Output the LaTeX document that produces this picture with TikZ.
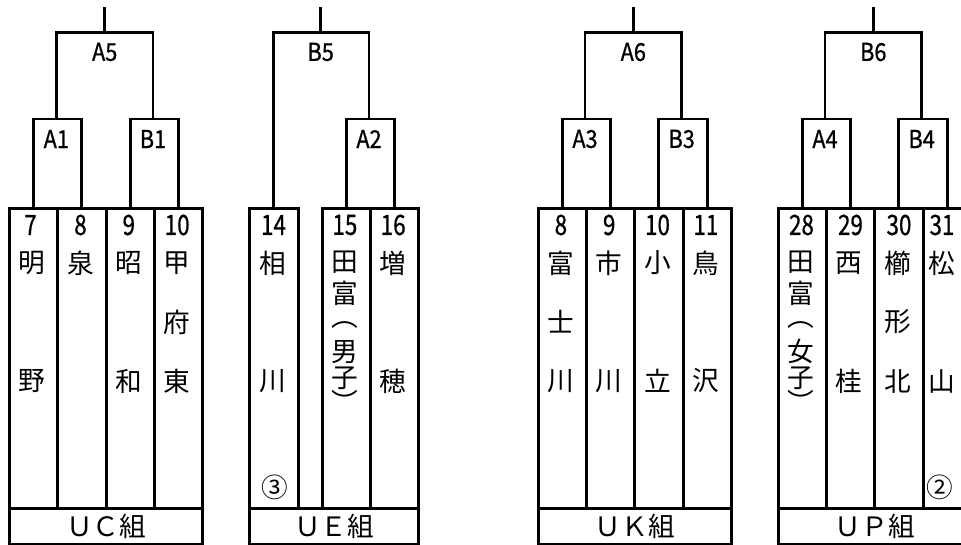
\documentclass[tikz,border=0pt]{standalone}
\usepackage{fontspec}
\usepackage{graphicx}
\setmainfont{Noto Sans CJK JP}
\newfontfamily\numfont[FakeBold=0.8]{Noto Sans CJK JP}
\newcommand\nar[1]{\scalebox{0.8}[1]{#1}}
\newcommand\narl[1]{\scalebox{0.88}[1]{#1}}
\begin{document}
\begin{tikzpicture}[x=0.75pt,y=-0.75pt,
  ln/.style={line width=2.2pt,line join=miter},
  col/.style={draw,line width=2.2pt,minimum width=36.25pt,minimum height=225pt,inner sep=0pt,anchor=north west},
  grp/.style={draw,line width=2.2pt,minimum height=27.4pt,inner sep=0pt,anchor=north west,font=\fontsize{20pt}{24pt}\selectfont},
  num/.style={inner sep=0pt,font=\numfont\fontsize{21pt}{24pt}\selectfont},
  nm/.style={inner sep=0pt,font=\fontsize{20pt}{24pt}\selectfont},
  lbl/.style={inner sep=0pt,font=\numfont\fontsize{18.5pt}{22pt}\selectfont}]
\useasboundingbox (0,0) rectangle (961,545);
\clip (0,0) rectangle (961,545);
\fill[white] (0,0) rectangle (961,545);

% ---------------- Group UC ----------------
\node[col] (c7)  at (8,206.7) {};
\node[col] (c8)  at (56.33,206.7) {};
\node[col] (c9)  at (104.67,206.7) {};
\node[col] (c10) at (153,206.7) {};
\node[grp,minimum width=145pt] (gUC) at (8,506.7) {ＵＣ組};
\node[num] (n7)  at (30.5,225) {\nar{7}};
\node[num] (n8)  at (80.5,225) {\nar{8}};
\node[num] (n9)  at (128.8,225) {\nar{9}};
\node[num] (n10) at (177.2,225) {\nar{10}};
\node[nm] (c7a) at (32.2,263) {明};
\node[nm] (c7b) at (32.2,381) {野};
\node[nm] (c8a) at (80.5,263) {泉};
\node[nm] (c9a) at (128.8,263) {昭};
\node[nm] (c9b) at (128.8,381) {和};
\node[nm] (c10a) at (177.2,263) {甲};
\node[nm] (c10b) at (177.2,322) {府};
\node[nm] (c10c) at (177.2,381) {東};
\coordinate (A1bar) at (56.3,119);
\coordinate (B1bar) at (153,119);
\coordinate (A5bar) at (104.7,32.3);
\coordinate (A5top) at (104.7,7);
\node[lbl] (A1) at (56.3,139) {\narl{A1}};
\node[lbl] (B1) at (153,139) {\narl{B1}};
\node[lbl] (A5) at (104.7,52) {\narl{A5}};
\draw[ln] (c7.north) |- (A1bar) -| (c8.north);
\draw[ln] (c9.north) |- (B1bar) -| (c10.north);
\draw[ln] (A1bar) |- (A5bar) -| (B1bar);
\draw[ln] (A5bar) -- (A5top);

% ---------------- Group UE ----------------
\node[col] (c14) at (248.3,206.7) {};
\node[col] (c15) at (320.7,206.7) {};
\node[col] (c16) at (369,206.7) {};
\node[grp,minimum width=126.8pt] (gUE) at (248.3,506.7) {ＵＥ組};
\node[num] (n14) at (273.5,225) {\nar{14}};
\node[num] (n15) at (344.9,225) {\nar{15}};
\node[num] (n16) at (393.2,225) {\nar{16}};
\node[nm] (c14a) at (272.5,263) {相};
\node[nm] (c14b) at (272.5,381) {川};
\node[nm] (c14c) at (275,487) {③};
\node[nm] (c15a) at (344.9,262) {田};
\node[nm] (c15b) at (344.9,293) {富};
\node[nm] (c15c) at (344.9,325) {︵};
\node[nm] (c15d) at (344.9,352) {男};
\node[nm] (c15e) at (344.9,378) {子};
\node[nm] (c15f) at (344.9,401) {︶};
\node[nm] (c16a) at (393.2,263) {増};
\node[nm] (c16b) at (393.2,381) {穂};
\coordinate (A2bar) at (369,119);
\coordinate (B5bar) at (320.7,32.3);
\coordinate (B5top) at (320.7,7);
\node[lbl] (A2) at (369,139) {\narl{A2}};
\node[lbl] (B5) at (320.7,52) {\narl{B5}};
\draw[ln] (c15.north) |- (A2bar) -| (c16.north);
\draw[ln] (c14.north) |- (B5bar) -| (A2bar);
\draw[ln] (B5bar) -- (B5top);

% ---------------- Group UK ----------------
\node[col] (k8)  at (536.7,206.7) {};
\node[col] (k9)  at (585,206.7) {};
\node[col] (k10) at (633.3,206.7) {};
\node[col] (k11) at (681.7,206.7) {};
\node[grp,minimum width=145pt] (gUK) at (536.7,506.7) {ＵＫ組};
\node[num] (m8)  at (560.9,225) {\nar{8}};
\node[num] (m9)  at (609.2,225) {\nar{9}};
\node[num] (m10) at (657.5,225) {\nar{10}};
\node[num] (m11) at (705.9,225) {\nar{11}};
\node[nm] (k8a) at (560.9,263) {富};
\node[nm] (k8b) at (560.9,322) {士};
\node[nm] (k8c) at (560.9,381) {川};
\node[nm] (k9a) at (609.2,263) {市};
\node[nm] (k9b) at (609.2,381) {川};
\node[nm] (k10a) at (657.5,263) {小};
\node[nm] (k10b) at (657.5,381) {立};
\node[nm] (k11a) at (705.9,263) {鳥};
\node[nm] (k11b) at (705.9,381) {沢};
\coordinate (A3bar) at (585,119);
\coordinate (B3bar) at (681.7,119);
\coordinate (A6bar) at (633.3,32.3);
\coordinate (A6top) at (633.3,7);
\node[lbl] (A3) at (585,139) {\narl{A3}};
\node[lbl] (B3) at (681.7,139) {\narl{B3}};
\node[lbl] (A6) at (633.3,52) {\narl{A6}};
\draw[ln] (k8.north) |- (A3bar) -| (k9.north);
\draw[ln] (k10.north) |- (B3bar) -| (k11.north);
\draw[ln] (A3bar) |- (A6bar) -| (B3bar);
\draw[ln] (A6bar) -- (A6top);

% ---------------- Group UP ----------------
\node[col] (p28) at (776.7,206.7) {};
\node[col] (p29) at (825,206.7) {};
\node[col] (p30) at (873.3,206.7) {};
\node[col] (p31) at (921.7,206.7) {};
\node[grp,minimum width=145pt] (gUP) at (776.7,506.7) {ＵＰ組};
\node[num] (q28) at (801.5,225) {\nar{28}};
\node[num] (q29) at (850.5,225) {\nar{29}};
\node[num] (q30) at (899,225) {\nar{30}};
\node[num] (q31) at (942,225) {\nar{31}};
\node[nm] (p28a) at (800.9,262) {田};
\node[nm] (p28b) at (800.9,293) {富};
\node[nm] (p28c) at (800.9,325) {︵};
\node[nm] (p28d) at (800.9,351) {女};
\node[nm] (p28e) at (800.9,378) {子};
\node[nm] (p28f) at (800.9,401) {︶};
\node[nm] (p29a) at (849.2,263) {西};
\node[nm] (p29b) at (849.2,381) {桂};
\node[nm] (p30a) at (897.5,263) {櫛};
\node[nm] (p30b) at (897.5,322) {形};
\node[nm] (p30c) at (897.5,381) {北};
\node[nm] (p31a) at (942,263) {松};
\node[nm] (p31b) at (942,381) {山};
\node[nm] (p31c) at (940,487) {②};
\coordinate (A4bar) at (825,119);
\coordinate (B4bar) at (921.7,119);
\coordinate (B6bar) at (873.3,32.3);
\coordinate (B6top) at (873.3,7);
\node[lbl] (A4) at (825,139) {\narl{A4}};
\node[lbl] (B4) at (921.7,139) {\narl{B4}};
\node[lbl] (B6) at (873.3,52) {\narl{B6}};
\draw[ln] (p28.north) |- (A4bar) -| (p29.north);
\draw[ln] (p30.north) |- (B4bar) -| (p31.north);
\draw[ln] (A4bar) |- (B6bar) -| (B4bar);
\draw[ln] (B6bar) -- (B6top);
\end{tikzpicture}
\end{document}
